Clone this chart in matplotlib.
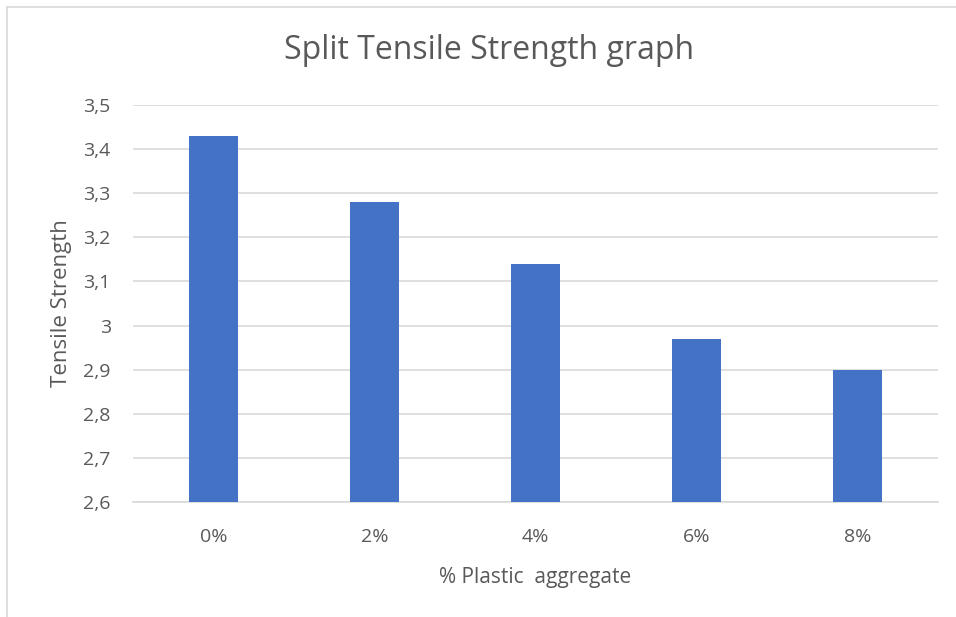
import numpy as np
import matplotlib.pyplot as plt
from matplotlib.lines import Line2D

categorias = ['0%', '2%', '4%', '6%', '8%']
resistencia = [3.43, 3.28, 3.14, 2.97, 2.90]
ticks_y = [2.6, 2.7, 2.8, 2.9, 3.0, 3.1, 3.2, 3.3, 3.4, 3.5]
etiquetas_y = ['2,6', '2,7', '2,8', '2,9', '3', '3,1', '3,2', '3,3', '3,4', '3,5']

plt.rcParams['font.family'] = ['Open Sans', 'DejaVu Sans']
gris = '#595959'

fig = plt.figure(figsize=(9.56, 6.17), dpi=100)
ax = fig.add_axes([0.1391, 0.1864, 0.8421, 0.6434])

x = np.arange(len(categorias))
ax.bar(x, resistencia, width=0.31, color='#4472c4', zorder=3)

ax.set_xlim(-0.5, len(categorias) - 0.5)
ax.set_ylim(2.6, 3.5)
ax.set_yticks(ticks_y)
ax.set_yticklabels(etiquetas_y)
ax.set_xticks(x)
ax.set_xticklabels(categorias)
ax.tick_params(axis='both', length=0, labelsize=14, colors=gris)
ax.tick_params(axis='y', pad=16)
ax.tick_params(axis='x', pad=19)

ax.grid(axis='y', color='#d9d9d9', linewidth=1.2, zorder=0)
for lado in ['top', 'right', 'left']:
    ax.spines[lado].set_visible(False)
ax.spines['bottom'].set_color('#d9d9d9')
ax.spines['bottom'].set_linewidth(1.2)

ax.set_xlabel('% Plastic  aggregate', fontsize=15, color=gris, labelpad=15)
ax.set_ylabel('Tensile Strength', fontsize=16, color=gris, labelpad=8)
fig.text(0.5115, 0.918, 'Split Tensile Strength graph', fontsize=23,
         color=gris, ha='center', va='center')

# marco del gráfico
fig.add_artist(Line2D([7/956, 1], [1 - 7/617, 1 - 7/617], color='#d9d9d9', linewidth=1.2))
fig.add_artist(Line2D([7/956, 7/956], [0, 1 - 7/617], color='#d9d9d9', linewidth=1.2))

plt.savefig('out.png', dpi=100)
